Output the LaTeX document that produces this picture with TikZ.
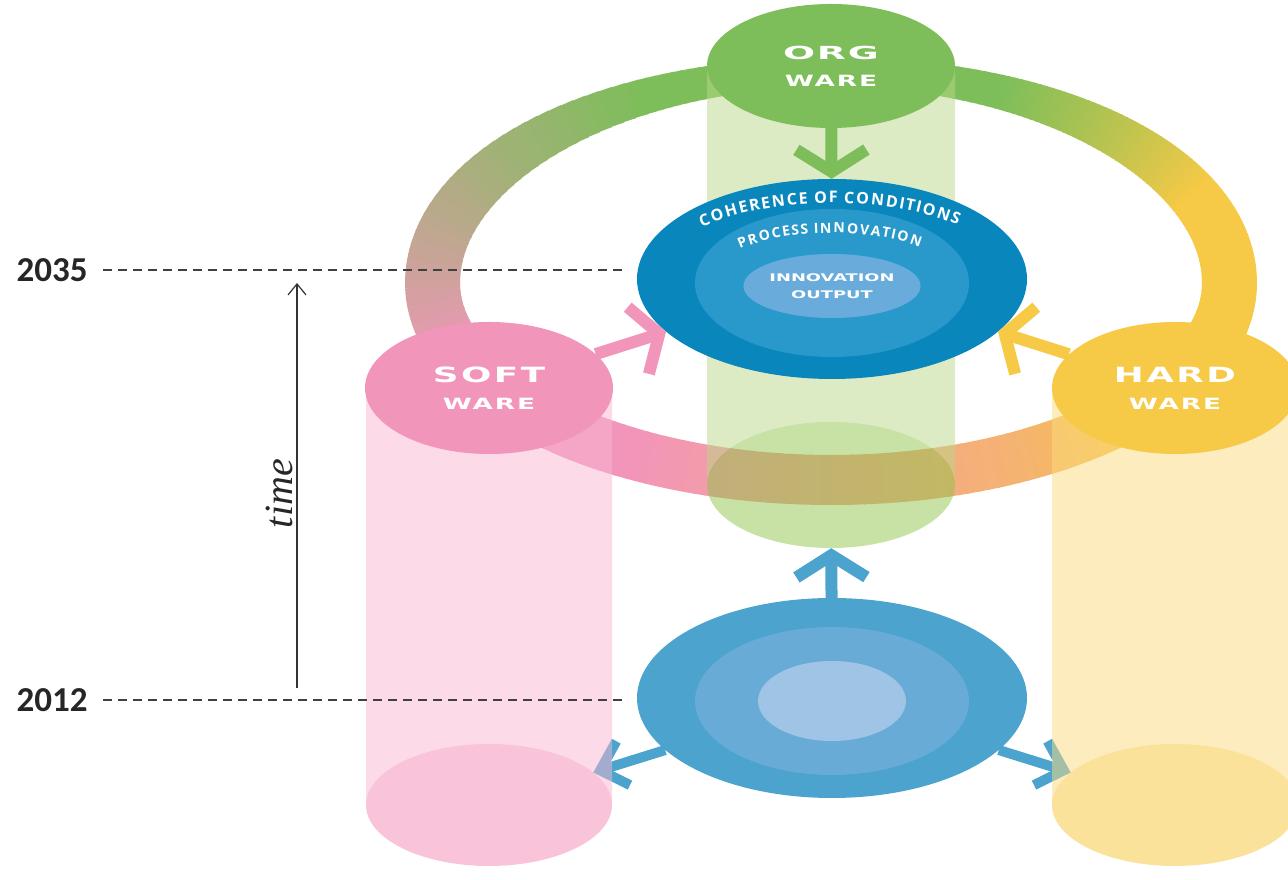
\documentclass[tikz,border=0pt]{standalone}
\usepackage{fontspec}
\usepackage{tikz}
\usetikzlibrary{arrows.meta,shapes.geometric,decorations.text}
\newfontfamily\warefont{DejaVu Sans}[FakeStretch=1.7]
\newfontfamily\corefont{Open Sans}
\newfontfamily\yearfont{Carlito}
\newfontfamily\timefont{Liberation Serif}

\definecolor{waregreen}{RGB}{126,190,90}
\definecolor{warepink}{RGB}{242,149,186}
\definecolor{wareyellow}{RGB}{246,201,70}
\definecolor{ringorange}{RGB}{245,180,110}
\definecolor{coreouter}{RGB}{9,134,187}
\definecolor{coremid}{RGB}{41,153,203}
\definecolor{coreinner}{RGB}{105,172,220}
\definecolor{baseouter}{RGB}{75,163,206}
\definecolor{basemid}{RGB}{104,171,214}
\definecolor{baseinner}{RGB}{160,196,229}
\definecolor{colgreen}{RGB}{185,215,137}
\definecolor{capgreen}{RGB}{145,195,75}
\definecolor{colpink}{RGB}{249,181,209}
\definecolor{cappink}{RGB}{243,137,181}
\definecolor{colyellow}{RGB}{251,219,125}
\definecolor{capyellow}{RGB}{247,197,55}

\pgfdeclarelayer{ringlayer}
\pgfdeclarelayer{columnlayer}
\pgfsetlayers{ringlayer,columnlayer,main}

\tikzset{
    wareblob/.style={ellipse, inner sep=0pt, align=center, text=white, font=\warefont\bfseries\addfontfeature{LetterSpace=12}\fontsize{15.5}{27}\selectfont},
    coreblob/.style={ellipse, inner sep=0pt},
    footcap/.style={ellipse, inner sep=0pt},
    fatarrow/.style={line width=12pt, -{Straight Barb[length=22pt, width=70pt]}},
    sidearrow/.style={line width=10pt, -{Straight Barb[length=24pt, width=46pt]}},
    coretext/.style 2 args={decorate, decoration={text effects along path, text={#1}, text effects/.cd, text along path, fit text to path, characters={inner sep=0pt, text=white, font=\corefont\bfseries\fontsize{#2}{#2}\selectfont}}},
    yearlabel/.style={font=\yearfont\bfseries\fontsize{35}{35}\selectfont, text=black!85},
    yearline/.style={draw=black!75, line width=1.4pt, dash pattern=on 9pt off 6pt, shorten <=12pt, shorten >=9pt},
    timearrow/.style={-{Straight Barb[length=11pt, width=18pt]}, line width=1.2pt, draw=black!80}
}

\begin{document}
\begin{tikzpicture}[x=1pt, y=1pt]
    \useasboundingbox (0,0) rectangle (1288,880);
    \clip (0,0) rectangle (1288,880);

    \node[wareblob, fill=waregreen, minimum width=248pt, minimum height=124pt] (org) at (831,814) {{\fontsize{18}{18}\selectfont\addfontfeature{FakeStretch=2.1, LetterSpace=10}ORG}\\WARE};
    \node[wareblob, fill=warepink, minimum width=248pt, minimum height=132pt] (soft) at (489,492) {{\fontsize{21}{21}\selectfont SOFT}\\WARE};
    \node[wareblob, fill=wareyellow, minimum width=246pt, minimum height=132pt] (hard) at (1175,492) {{\fontsize{21}{21}\selectfont HARD}\\WARE};

    \node[coreblob, fill=coreouter, minimum width=390pt, minimum height=200pt] (core) at (832,601) {};
    \node[coreblob, fill=coremid, minimum width=274pt, minimum height=148pt] (coremid) at (832,597) {};
    \node[coreblob, fill=coreinner, minimum width=148pt, minimum height=64pt, align=center, text=white, font=\warefont\bfseries\fontsize{10.5}{17}\selectfont] (coreinner) at (832,594) {INNOVATION\\OUTPUT};
    \path[coretext={COHERENCE OF CONDITIONS}{16}] (core.center) ++(137:178pt and 76pt) arc[start angle=137, end angle=45, x radius=178pt, y radius=76pt];
    \path[coretext={PROCESS INNOVATION}{14}] (core.center) ++(139:122pt and 46pt) arc[start angle=139, end angle=44, x radius=122pt, y radius=46pt];

    \node[coreblob, fill=baseouter, minimum width=390pt, minimum height=200pt] (base) at (832,182) {};
    \node[coreblob, fill=basemid, minimum width=274pt, minimum height=148pt] (basemid) at (832,179) {};
    \node[coreblob, fill=baseinner, minimum width=148pt, minimum height=80pt] (baseinner) at (832,179) {};

    \draw[fatarrow, draw=waregreen] (org) -- (core);
    \draw[fatarrow, draw=warepink] (soft) -- (core);
    \draw[fatarrow, draw=wareyellow] (hard) -- (core);

    \begin{pgfonlayer}{columnlayer}
        \begin{scope}[transparency group, opacity=0.5]
            \fill[colgreen] (707,395) rectangle (955,814);
            \node[footcap, fill=capgreen, minimum width=248pt, minimum height=126pt] (orgfoot) at (831,395) {};
        \end{scope}
        \begin{scope}[transparency group, opacity=0.5]
            \fill[colpink] (366,75) rectangle (612,492);
            \node[footcap, fill=cappink, minimum width=246pt, minimum height=122pt] (softfoot) at (489,75) {};
        \end{scope}
        \begin{scope}[transparency group, opacity=0.5]
            \fill[colyellow] (1052,75) rectangle (1298,492);
            \node[footcap, fill=capyellow, minimum width=246pt, minimum height=122pt] (hardfoot) at (1175,75) {};
        \end{scope}
    \end{pgfonlayer}

    \begin{pgfonlayer}{ringlayer}
        % the ring is thinner and flatter at the back
        \foreach \a/\b/\ca/\cb in {25/65/wareyellow/waregreen, 65/118/waregreen/waregreen, 118/205/waregreen/warepink, 205/240/warepink/warepink, 240/300/warepink/ringorange, 300/322/ringorange/wareyellow, 322/385/wareyellow/wareyellow}
            \foreach \i in {0,...,39} {
                \pgfmathsetmacro\s{\a+(\b-\a)*\i/40}
                \pgfmathsetmacro\e{\a+(\b-\a)*(\i+1)/40+0.3}
                \pgfmathsetmacro\m{(\s+\e)/2}
                \pgfmathsetmacro\p{100*(\i+0.5)/40}
                \pgfmathsetmacro\ry{sin(\m)>0 ? 211 : 197}
                \pgfmathsetmacro\w{sin(\m)>0 ? 55-25*sin(\m)*sin(\m) : 55-5*sin(\m)*sin(\m)}
                \draw[line width=\w pt, draw=\cb!\p!\ca] (831,597) ++(\s:398.5pt and \ry pt) arc[start angle=\s, end angle=\e, x radius=398.5pt, y radius=\ry pt];
            }
        \draw[fatarrow, draw=baseouter] (base) -- (orgfoot);
        \draw[sidearrow, draw=baseouter] (base) -- (softfoot);
        \draw[sidearrow, draw=baseouter] (base) -- (hardfoot);
    \end{pgfonlayer}

    \node[yearlabel] (y2035) at (52,610) {2035};
    \node[yearlabel] (y2012) at (52,180) {2012};
    \draw[yearline] (y2035.east) -- (y2035.east -| core.west);
    \draw[yearline] (y2012.east) -- (y2012.east -| base.west);

    \coordinate (timefrom) at (297,192);
    \coordinate (timeto) at (297,597);
    \draw[timearrow] (timefrom) -- (timeto) node[pos=0.48, above, rotate=90, font=\timefont\itshape\fontsize{40}{40}\selectfont, text=black!85] {time};
\end{tikzpicture}
\end{document}
